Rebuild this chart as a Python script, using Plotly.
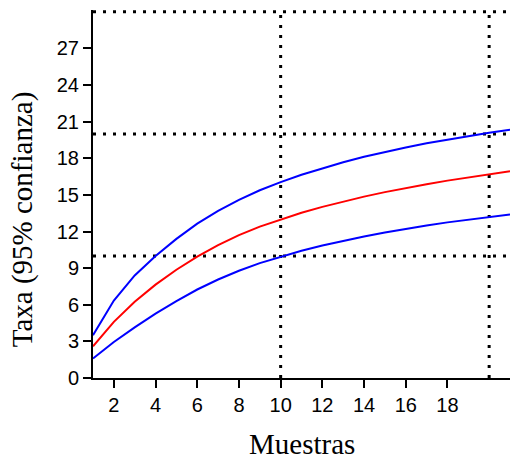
import plotly.graph_objects as go

# Rarefaction curve: expected taxa per number of samples with 95% bounds
muestras = list(range(1, 22))
taxa_media = [2.6, 4.6, 6.25, 7.65, 8.87, 9.95, 10.88, 11.7, 12.4, 13.0, 13.54,
              14.02, 14.46, 14.86, 15.23, 15.57, 15.88, 16.17, 16.44, 16.69, 16.93]
taxa_sup = [3.5, 6.35, 8.4, 10.0, 11.4, 12.65, 13.7, 14.6, 15.38, 16.05, 16.65,
            17.19, 17.68, 18.12, 18.52, 18.89, 19.23, 19.54, 19.83, 20.1, 20.35]
taxa_inf = [1.6, 2.95, 4.15, 5.27, 6.3, 7.25, 8.07, 8.79, 9.41, 9.95, 10.43,
            10.86, 11.25, 11.6, 11.92, 12.22, 12.5, 12.75, 12.98, 13.2, 13.4]

# Dotted reference grid
ref_x = [10, 20]
ref_y = [10, 20, 30]

x_ticks = [2, 4, 6, 8, 10, 12, 14, 16, 18]
y_ticks = list(range(0, 30, 3))

x_range = [1, 21]
y_range = [0, 30.15]

fig = go.Figure()

for ys, color in [(taxa_sup, "#0000FF"), (taxa_media, "#FF0000"), (taxa_inf, "#0000FF")]:
    fig.add_trace(go.Scatter(x=muestras, y=ys, mode="lines",
                             line=dict(color=color, width=2),
                             showlegend=False, hoverinfo="skip"))

dot = dict(color="black", width=3, dash="3px,7px")
for xv in ref_x:
    fig.add_shape(type="line", x0=xv, x1=xv, y0=0, y1=30,
                  xref="x", yref="y", line=dot, layer="below")
for yv in ref_y:
    fig.add_shape(type="line", x0=x_range[0], x1=x_range[1], y0=yv, y1=yv,
                  xref="x", yref="y", line=dot, layer="below")

tick_font = dict(family="Liberation Sans, Arial, sans-serif", size=20, color="black")
title_font = dict(family="Liberation Serif, Times New Roman, serif", size=29, color="black")

fig.update_xaxes(range=x_range, tickvals=x_ticks, ticks="outside", ticklen=8,
                 tickwidth=2, tickcolor="black", showline=True, linecolor="black",
                 linewidth=2, showgrid=False, zeroline=False, tickfont=tick_font)
fig.update_yaxes(range=y_range, tickvals=y_ticks, ticks="outside", ticklen=8,
                 tickwidth=2, tickcolor="black", showline=True, linecolor="black",
                 linewidth=2, showgrid=False, zeroline=False, tickfont=tick_font)

fig.add_annotation(text="Muestras", xref="paper", yref="paper", x=0.5, y=-0.18,
                   xanchor="center", yanchor="middle", showarrow=False, font=title_font)
fig.add_annotation(text="Taxa (95% confianza)", xref="paper", yref="paper",
                   x=-0.169, y=0.43, xanchor="center", yanchor="middle",
                   textangle=-90, showarrow=False, font=title_font)

fig.update_layout(width=510, height=462, margin=dict(l=93, r=0, t=10, b=84),
                  paper_bgcolor="white", plot_bgcolor="white")

fig.write_html("out.html")
